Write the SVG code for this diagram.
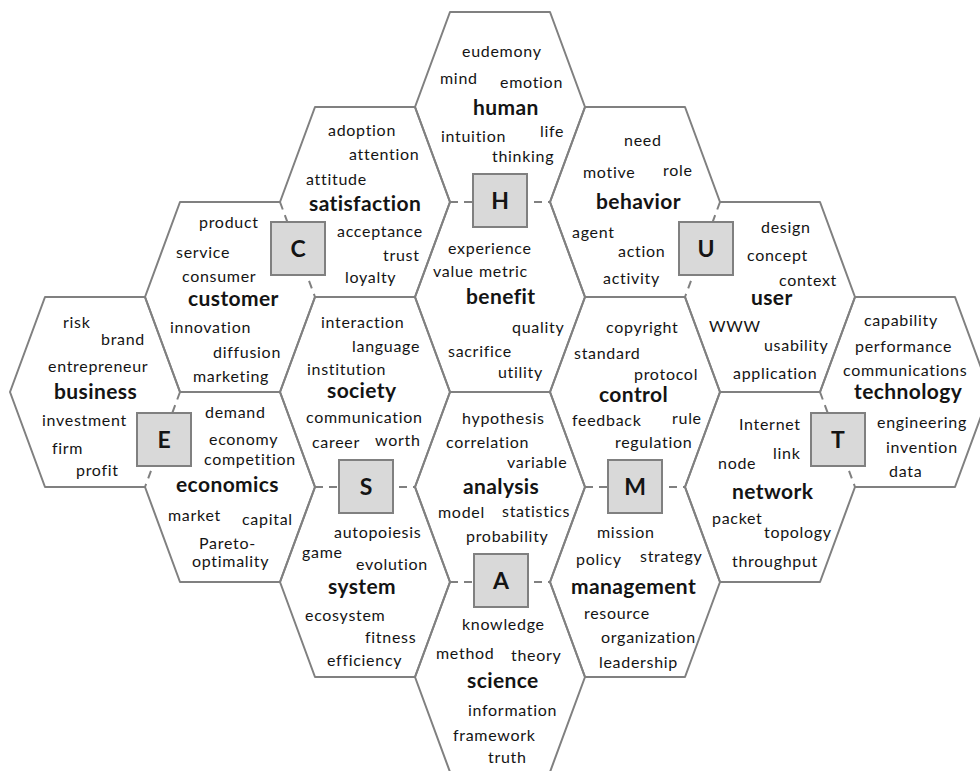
<svg xmlns="http://www.w3.org/2000/svg" width="980" height="771" viewBox="0 0 980 771">
  <style>
    .hex { fill: none; stroke: #808080; stroke-width: 2; stroke-linejoin: round; }
    .link { fill: none; stroke: #808080; stroke-width: 2; stroke-dasharray: 8 6; }
    .box { fill: #d9d9d9; stroke: #808080; stroke-width: 2; }
    text { font-family: Lato, "Liberation Sans", sans-serif; fill: #141414; }
    .w { font-size: 16px; letter-spacing: 0.7px; }
    .t { font-size: 21px; font-weight: bold; letter-spacing: 0.4px; }
    .k { font-size: 23px; font-weight: bold; text-anchor: middle; }
  </style>
  <rect width="980" height="771" fill="#ffffff"/>

  <!-- dashed edges linking neighbouring cells through the letter boxes -->
  <g id="connectors">
    <line class="link" x1="450" y1="202" x2="550" y2="202"/>
    <line class="link" x1="280" y1="202" x2="315" y2="297"/>
    <line class="link" x1="720" y1="202" x2="685" y2="297"/>
    <line class="link" x1="180" y1="392" x2="145" y2="487"/>
    <line class="link" x1="315" y1="487" x2="415" y2="487"/>
    <line class="link" x1="585" y1="487" x2="685" y2="487"/>
    <line class="link" x1="820" y1="392" x2="855" y2="487"/>
    <line class="link" x1="450" y1="582" x2="550" y2="582"/>
  </g>

  <g id="human">
    <path class="hex" d="M450,202 L415,107 L450,12 L550,12 L585,107 L550,202"/>
    <text class="w" x="462" y="57">eudemony</text>
    <text class="w" x="440" y="84">mind</text>
    <text class="w" x="500" y="88">emotion</text>
    <text class="t" x="473" y="115">human</text>
    <text class="w" x="441" y="142">intuition</text>
    <text class="w" x="540" y="137">life</text>
    <text class="w" x="492" y="162">thinking</text>
  </g>

  <g id="benefit">
    <path class="hex" d="M550,202 L585,297 L550,392 L450,392 L415,297 L450,202"/>
    <text class="w" x="448" y="254">experience</text>
    <text class="w" x="433" y="277">value</text>
    <text class="w" x="479" y="277">metric</text>
    <text class="t" x="466" y="304">benefit</text>
    <text class="w" x="512" y="333">quality</text>
    <text class="w" x="448" y="357">sacrifice</text>
    <text class="w" x="498" y="378">utility</text>
  </g>

  <g id="analysis">
    <path class="hex" d="M550,582 L585,487 L550,392 L450,392 L415,487 L450,582"/>
    <text class="w" x="462" y="424">hypothesis</text>
    <text class="w" x="446" y="448">correlation</text>
    <text class="w" x="507" y="468">variable</text>
    <text class="t" x="463" y="494">analysis</text>
    <text class="w" x="438" y="518">model</text>
    <text class="w" x="502" y="517">statistics</text>
    <text class="w" x="466" y="542">probability</text>
  </g>

  <g id="science">
    <path class="hex" d="M550,582 L585,677 L550,772 L450,772 L415,677 L450,582"/>
    <text class="w" x="462" y="630">knowledge</text>
    <text class="w" x="436" y="659">method</text>
    <text class="w" x="511" y="661">theory</text>
    <text class="t" x="467" y="688">science</text>
    <text class="w" x="468" y="716">information</text>
    <text class="w" x="453" y="741">framework</text>
    <text class="w" x="488" y="763">truth</text>
  </g>

  <g id="satisfaction">
    <path class="hex" d="M280,202 L315,107 L415,107 L450,202 L415,297 L315,297"/>
    <text class="w" x="328" y="136">adoption</text>
    <text class="w" x="349" y="160">attention</text>
    <text class="w" x="306" y="185">attitude</text>
    <text class="t" x="309" y="211">satisfaction</text>
    <text class="w" x="337" y="237">acceptance</text>
    <text class="w" x="383" y="261">trust</text>
    <text class="w" x="345" y="283">loyalty</text>
  </g>

  <g id="society">
    <path class="hex" d="M315,487 L280,392 L315,297 L415,297 L450,392 L415,487"/>
    <text class="w" x="321" y="328">interaction</text>
    <text class="w" x="352" y="352">language</text>
    <text class="w" x="307" y="375">institution</text>
    <text class="t" x="327" y="398">society</text>
    <text class="w" x="306" y="423">communication</text>
    <text class="w" x="312" y="448">career</text>
    <text class="w" x="375" y="446">worth</text>
  </g>

  <g id="system">
    <path class="hex" d="M415,487 L450,582 L415,677 L315,677 L280,582 L315,487"/>
    <text class="w" x="334" y="538">autopoiesis</text>
    <text class="w" x="302" y="558">game</text>
    <text class="w" x="356" y="570">evolution</text>
    <text class="t" x="328" y="594">system</text>
    <text class="w" x="305" y="621">ecosystem</text>
    <text class="w" x="365" y="643">fitness</text>
    <text class="w" x="327" y="666">efficiency</text>
  </g>

  <g id="behavior">
    <path class="hex" d="M720,202 L685,107 L585,107 L550,202 L585,297 L685,297"/>
    <text class="w" x="624" y="146">need</text>
    <text class="w" x="583" y="178">motive</text>
    <text class="w" x="663" y="176">role</text>
    <text class="t" x="596" y="209">behavior</text>
    <text class="w" x="572" y="238">agent</text>
    <text class="w" x="618" y="257">action</text>
    <text class="w" x="603" y="284">activity</text>
  </g>

  <g id="control">
    <path class="hex" d="M685,487 L720,392 L685,297 L585,297 L550,392 L585,487"/>
    <text class="w" x="606" y="333">copyright</text>
    <text class="w" x="574" y="359">standard</text>
    <text class="w" x="634" y="380">protocol</text>
    <text class="t" x="599" y="402">control</text>
    <text class="w" x="572" y="426">feedback</text>
    <text class="w" x="672" y="424">rule</text>
    <text class="w" x="615" y="448">regulation</text>
  </g>

  <g id="management">
    <path class="hex" d="M685,487 L720,582 L685,677 L585,677 L550,582 L585,487"/>
    <text class="w" x="597" y="538">mission</text>
    <text class="w" x="576" y="565">policy</text>
    <text class="w" x="640" y="562">strategy</text>
    <text class="t" x="571" y="594">management</text>
    <text class="w" x="584" y="619">resource</text>
    <text class="w" x="601" y="643">organization</text>
    <text class="w" x="599" y="668">leadership</text>
  </g>

  <g id="customer">
    <path class="hex" d="M280,202 L180,202 L145,297 L180,392 L280,392 L315,297"/>
    <text class="w" x="199" y="228">product</text>
    <text class="w" x="176" y="258">service</text>
    <text class="w" x="182" y="282">consumer</text>
    <text class="t" x="188" y="306">customer</text>
    <text class="w" x="170" y="333">innovation</text>
    <text class="w" x="213" y="358">diffusion</text>
    <text class="w" x="193" y="382">marketing</text>
  </g>

  <g id="economics">
    <path class="hex" d="M180,392 L280,392 L315,487 L280,582 L180,582 L145,487"/>
    <text class="w" x="205" y="418">demand</text>
    <text class="w" x="209" y="445">economy</text>
    <text class="w" x="204" y="465">competition</text>
    <text class="t" x="176" y="492">economics</text>
    <text class="w" x="168" y="521">market</text>
    <text class="w" x="242" y="525">capital</text>
    <text class="w" x="199" y="549">Pareto-</text>
    <text class="w" x="192" y="567">optimality</text>
  </g>

  <g id="business">
    <path class="hex" d="M180,392 L145,297 L45,297 L10,392 L45,487 L145,487"/>
    <text class="w" x="63" y="328">risk</text>
    <text class="w" x="101" y="345">brand</text>
    <text class="w" x="48" y="372">entrepreneur</text>
    <text class="t" x="54" y="399">business</text>
    <text class="w" x="42" y="426">investment</text>
    <text class="w" x="52" y="454">firm</text>
    <text class="w" x="76" y="476">profit</text>
  </g>

  <g id="user">
    <path class="hex" d="M720,202 L820,202 L855,297 L820,392 L720,392 L685,297"/>
    <text class="w" x="761" y="233">design</text>
    <text class="w" x="747" y="261">concept</text>
    <text class="w" x="779" y="286">context</text>
    <text class="t" x="751" y="305">user</text>
    <text class="w" x="709" y="332">WWW</text>
    <text class="w" x="764" y="351">usability</text>
    <text class="w" x="733" y="379">application</text>
  </g>

  <g id="network">
    <path class="hex" d="M820,392 L720,392 L685,487 L720,582 L820,582 L855,487"/>
    <text class="w" x="739" y="430">Internet</text>
    <text class="w" x="773" y="459">link</text>
    <text class="w" x="718" y="469">node</text>
    <text class="t" x="732" y="499">network</text>
    <text class="w" x="712" y="524">packet</text>
    <text class="w" x="764" y="538">topology</text>
    <text class="w" x="732" y="567">throughput</text>
  </g>

  <g id="technology">
    <path class="hex" d="M820,392 L855,297 L955,297 L990,392 L955,487 L855,487"/>
    <text class="w" x="864" y="326">capability</text>
    <text class="w" x="855" y="352">performance</text>
    <text class="w" x="843" y="376">communications</text>
    <text class="t" x="854" y="399">technology</text>
    <text class="w" x="877" y="428">engineering</text>
    <text class="w" x="886" y="453">invention</text>
    <text class="w" x="889" y="477">data</text>
  </g>

  <!-- letter boxes sitting on the dashed edges -->
  <g id="box-H"><rect class="box" x="473" y="174" width="54" height="53"/><text class="k" x="500" y="209">H</text></g>
  <g id="box-C"><rect class="box" x="271" y="222" width="54" height="53"/><text class="k" x="298" y="257">C</text></g>
  <g id="box-U"><rect class="box" x="679" y="222" width="54" height="53"/><text class="k" x="706" y="257">U</text></g>
  <g id="box-E"><rect class="box" x="137" y="413" width="54" height="53"/><text class="k" x="164" y="448">E</text></g>
  <g id="box-S"><rect class="box" x="339" y="460" width="54" height="53"/><text class="k" x="366" y="495">S</text></g>
  <g id="box-M"><rect class="box" x="608" y="460" width="54" height="53"/><text class="k" x="635" y="495">M</text></g>
  <g id="box-T"><rect class="box" x="811" y="413" width="54" height="53"/><text class="k" x="838" y="448">T</text></g>
  <g id="box-A"><rect class="box" x="474" y="554" width="54" height="53"/><text class="k" x="501" y="589">A</text></g>
</svg>
